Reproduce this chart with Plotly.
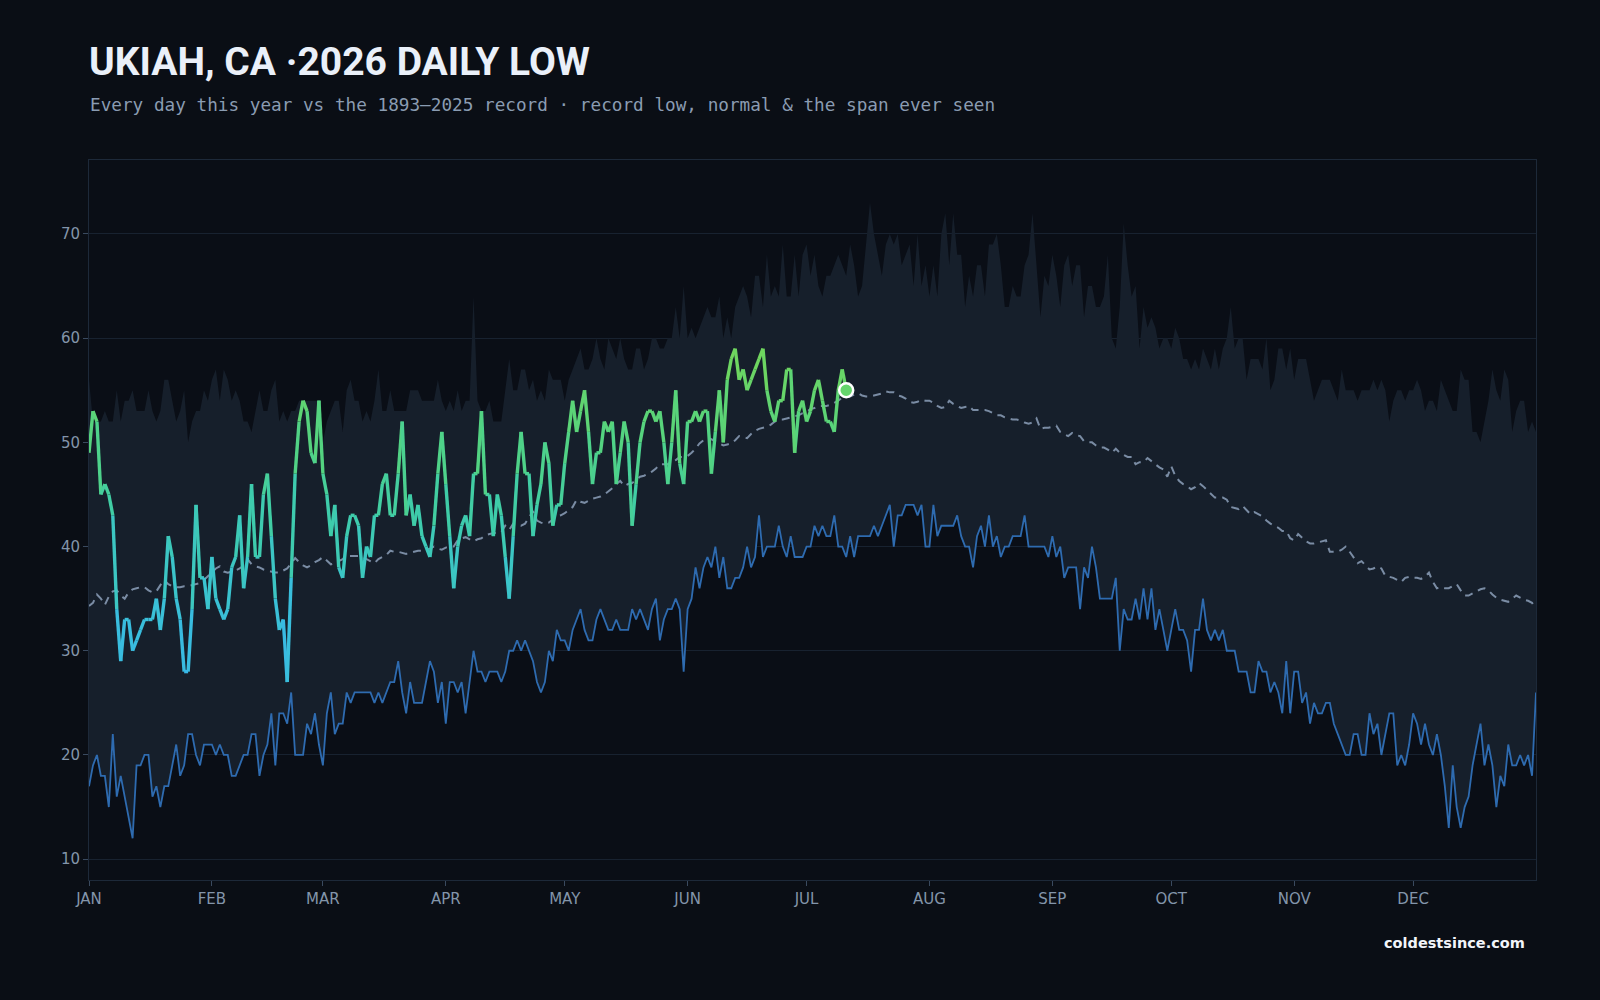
import plotly.graph_objects as go

# ---------------- data ----------------
# day-of-year index 0..365 (366 climatology days)
record_high = [
    56, 52, 52, 52, 53, 52, 52, 55, 52, 54,
    54, 55, 53, 53, 53, 55, 53, 52, 53, 56,
    56, 54, 52, 53, 55, 50, 52, 53, 53, 55,
    54, 56, 57, 54, 57, 56, 54, 55, 54, 52,
    52, 51, 53, 55, 53, 53, 55, 56, 52, 53,
    52, 53, 53, 54, 54, 54, 54, 54, 54, 50,
    52, 53, 54, 54, 51, 55, 56, 54, 54, 52,
    53, 52, 54, 57, 53, 53, 55, 53, 53, 53,
    53, 55, 55, 55, 54, 54, 54, 54, 56, 54,
    53, 54, 53, 55, 53, 54, 54, 64, 54, 53,
    53, 54, 52, 52, 52, 55, 58, 55, 55, 57,
    57, 55, 56, 54, 55, 54, 57, 56, 56, 56,
    54, 56, 57, 58, 59, 57, 57, 58, 60, 58,
    57, 60, 59, 58, 60, 58, 57, 57, 59, 59,
    57, 58, 60, 60, 59, 59, 60, 60, 63, 60,
    65, 60, 61, 60, 61, 62, 63, 62, 62, 64,
    60, 62, 60, 63, 64, 65, 64, 62, 66, 66,
    63, 68, 64, 65, 64, 69, 64, 64, 68, 64,
    68, 69, 66, 68, 65, 64, 66, 66, 67, 68,
    67, 66, 69, 67, 64, 65, 69, 73, 70, 68,
    66, 69, 70, 69, 70, 67, 68, 69, 65, 70,
    65, 67, 64, 67, 64, 70, 72, 67, 72, 68,
    68, 63, 66, 64, 67, 67, 64, 69, 69, 70,
    67, 63, 63, 65, 64, 64, 67, 68, 72, 67,
    62, 66, 65, 68, 66, 63, 67, 68, 65, 67,
    67, 62, 65, 65, 63, 63, 64, 68, 60, 59,
    63, 71, 67, 64, 65, 59, 63, 61, 62, 61,
    59, 60, 60, 59, 61, 60, 58, 58, 57, 58,
    57, 59, 58, 57, 59, 57, 59, 60, 63, 59,
    60, 60, 56, 58, 58, 58, 57, 60, 55, 56,
    59, 59, 57, 59, 56, 58, 58, 58, 56, 54,
    55, 56, 56, 56, 55, 54, 57, 55, 55, 55,
    54, 55, 55, 55, 56, 55, 56, 55, 52, 54,
    55, 55, 54, 55, 55, 56, 55, 53, 54, 54,
    53, 56, 55, 54, 53, 53, 57, 56, 56, 51,
    51, 50, 52, 54, 57, 55, 54, 57, 56, 51,
    53, 54, 54, 51, 52, 51,
]

record_low = [
    17, 19, 20, 18, 18, 15, 22, 16, 18, 16,
    14, 12, 19, 19, 20, 20, 16, 17, 15, 17,
    17, 19, 21, 18, 19, 22, 22, 20, 19, 21,
    21, 21, 20, 21, 20, 20, 18, 18, 19, 20,
    20, 22, 22, 18, 20, 21, 24, 19, 24, 24,
    23, 26, 20, 20, 20, 23, 22, 24, 21, 19,
    24, 26, 22, 23, 23, 26, 25, 26, 26, 26,
    26, 26, 25, 26, 25, 26, 27, 27, 29, 26,
    24, 27, 25, 25, 25, 27, 29, 28, 25, 27,
    23, 27, 27, 26, 27, 24, 27, 30, 28, 28,
    27, 28, 28, 28, 27, 28, 30, 30, 31, 30,
    31, 30, 29, 27, 26, 27, 30, 29, 32, 31,
    31, 30, 32, 33, 34, 32, 31, 31, 33, 34,
    33, 32, 32, 33, 32, 32, 32, 34, 33, 34,
    33, 32, 34, 35, 31, 33, 34, 34, 35, 34,
    28, 34, 35, 38, 36, 38, 39, 38, 40, 37,
    39, 36, 36, 37, 37, 38, 40, 38, 39, 43,
    39, 40, 40, 40, 42, 40, 39, 41, 39, 39,
    39, 40, 40, 42, 41, 42, 41, 41, 43, 40,
    40, 39, 41, 39, 41, 41, 41, 41, 42, 41,
    42, 43, 44, 40, 43, 43, 44, 44, 44, 43,
    44, 40, 40, 44, 41, 42, 42, 42, 42, 43,
    41, 40, 40, 38, 41, 42, 40, 43, 40, 41,
    39, 40, 40, 41, 41, 41, 43, 40, 40, 40,
    40, 40, 39, 41, 39, 40, 37, 38, 38, 38,
    34, 38, 37, 40, 38, 35, 35, 35, 35, 37,
    30, 34, 33, 33, 35, 33, 36, 33, 36, 32,
    34, 32, 30, 32, 34, 32, 32, 31, 28, 32,
    32, 35, 32, 31, 32, 31, 32, 30, 30, 30,
    28, 28, 28, 26, 26, 29, 28, 28, 26, 27,
    26, 24, 29, 24, 28, 28, 25, 26, 23, 25,
    24, 24, 25, 25, 23, 22, 21, 20, 20, 22,
    22, 20, 20, 24, 22, 23, 20, 22, 24, 24,
    19, 20, 19, 21, 24, 23, 21, 23, 21, 20,
    22, 20, 17, 13, 19, 15, 13, 15, 16, 19,
    21, 23, 19, 21, 19, 15, 18, 17, 21, 19,
    19, 20, 19, 20, 18, 26,
]

normal = [
    34.3, 34.6, 35.4, 35.0, 34.4, 35.2, 35.7, 35.8, 35.3, 35.0,
    35.6, 35.9, 36.0, 36.1, 36.1, 35.8, 35.6, 35.7, 36.3, 36.8,
    36.4, 36.2, 36.1, 36.1, 36.2, 36.2, 36.3, 36.4, 36.5, 36.8,
    37.2, 37.6, 37.9, 38.1, 37.6, 37.5, 37.6, 37.7, 37.9, 38.2,
    38.8, 38.3, 38.1, 38.0, 37.8, 37.7, 37.6, 37.5, 37.5, 37.7,
    37.9, 38.4, 38.9, 38.5, 38.2, 38.0, 38.2, 38.5, 38.7, 39.0,
    38.6, 38.3, 38.4, 38.6, 38.8, 39.1, 39.1, 39.1, 39.1, 39.0,
    38.8, 38.6, 38.4, 38.8, 39.0, 39.2, 39.6, 39.5, 39.5, 39.4,
    39.3, 39.4, 39.5, 39.6, 39.6, 39.7, 39.8, 40.0, 39.8, 39.7,
    39.9, 40.0, 40.0, 40.6, 40.8, 40.9, 40.7, 40.5, 40.7, 40.8,
    41.1, 41.2, 41.3, 41.3, 41.4, 42.0, 41.6, 42.2, 42.1, 42.0,
    42.2, 42.8, 43.4, 42.5, 42.3, 42.2, 42.3, 42.6, 42.9, 43.0,
    43.2, 43.5, 43.8, 44.5, 44.3, 44.2, 44.4, 44.6, 44.7, 44.8,
    45.0, 45.3, 45.6, 46.0, 46.3, 45.8, 46.0, 46.1, 46.4, 46.7,
    46.8, 47.0, 47.2, 47.5, 47.9, 47.9, 47.9, 48.1, 48.3, 48.6,
    48.6, 48.7, 49.0, 49.4, 49.9, 50.2, 50.4, 50.3, 50.1, 49.9,
    49.7, 49.8, 49.9, 50.2, 50.6, 50.5, 50.4, 50.8, 51.1, 51.3,
    51.4, 51.5, 51.7, 52.0, 52.2, 52.2, 52.3, 52.4, 52.5, 52.6,
    52.8, 52.9, 53.2, 53.3, 53.5, 53.5, 53.5, 53.6, 53.8, 54.0,
    54.3, 54.4, 54.4, 54.6, 54.7, 54.5, 54.4, 54.4, 54.5, 54.6,
    54.7, 54.9, 54.8, 54.8, 54.5, 54.4, 54.2, 53.9, 53.8, 53.9,
    54.1, 54.0, 54.0, 53.8, 53.5, 53.3, 53.4, 54.0, 53.7, 53.5,
    53.3, 53.4, 53.5, 53.1, 53.1, 53.1, 53.1, 53.0, 52.8, 52.6,
    52.6, 52.4, 52.3, 52.2, 52.2, 52.1, 51.9, 51.8, 51.9, 52.3,
    51.3, 51.4, 51.4, 51.5, 51.6, 51.0, 50.8, 50.6, 50.9, 50.7,
    50.6, 50.1, 50.0, 50.0, 49.7, 49.5, 49.5, 49.3, 49.0, 49.4,
    49.0, 48.8, 48.6, 48.6, 47.9, 48.1, 48.1, 48.5, 48.2, 47.9,
    47.6, 47.4, 46.7, 47.7, 46.8, 46.3, 46.0, 45.8, 45.5, 45.7,
    46.1, 45.8, 45.4, 45.0, 44.7, 44.7, 44.7, 44.5, 43.8, 43.7,
    43.6, 43.9, 43.5, 43.1, 43.3, 43.1, 42.9, 42.5, 42.2, 42.0,
    41.8, 41.5, 41.5, 40.8, 40.6, 41.2, 40.8, 40.5, 40.3, 40.3,
    40.4, 40.5, 40.6, 39.5, 39.5, 39.5, 39.7, 40.0, 39.5, 38.9,
    38.4, 38.6, 38.2, 37.8, 37.9, 38.1, 37.9, 37.2, 37.1, 37.0,
    36.8, 36.6, 37.0, 37.1, 37.0, 37.0, 36.9, 37.1, 37.5, 36.6,
    36.0, 36.1, 36.0, 36.0, 36.2, 36.4, 35.8, 35.3, 35.3, 35.5,
    35.7, 35.9, 36.0, 35.8, 35.4, 35.1, 34.9, 34.8, 34.7, 35.0,
    35.3, 35.1, 34.9, 34.8, 34.6, 34.0,
]

# 2026 daily lows so far (day 0 = Jan 1)
current = [
    49, 53, 52, 45, 46, 45, 43, 34, 29, 33,
    33, 30, 31, 32, 33, 33, 33, 35, 32, 35,
    41, 39, 35, 33, 28, 28, 34, 44, 37, 37,
    34, 39, 35, 34, 33, 34, 38, 39, 43, 36,
    39, 46, 39, 39, 45, 47, 41, 35, 32, 33,
    27, 37, 47, 52, 54, 53, 49, 48, 54, 47,
    45, 41, 44, 38, 37, 41, 43, 43, 42, 37,
    40, 39, 43, 43, 46, 47, 43, 43, 47, 52,
    43, 45, 42, 44, 41, 40, 39, 42, 47, 51,
    46, 41, 36, 40, 42, 43, 41, 47, 47, 53,
    45, 45, 41, 45, 43, 39, 35, 41, 47, 51,
    47, 47, 41, 44, 46, 50, 48, 42, 44, 44,
    48, 51, 54, 51, 53, 55, 51, 46, 49, 49,
    52, 51, 52, 46, 49, 52, 50, 42, 46, 50,
    52, 53, 53, 52, 53, 50, 46, 50, 55, 48,
    46, 52, 52, 53, 52, 53, 53, 47, 51, 55,
    50, 56, 58, 59, 56, 57, 55, 56, 57, 58,
    59, 55, 53, 52, 54, 54, 57, 57, 49, 53,
    54, 52, 53, 55, 56, 54, 52, 52, 51, 55,
    57, 55,
]

month_starts = [0, 31, 59, 90, 120, 151, 181, 212, 243, 273, 304, 334]
month_labels = ["JAN", "FEB", "MAR", "APR", "MAY", "JUN",
                "JUL", "AUG", "SEP", "OCT", "NOV", "DEC"]
y_ticks = [10, 20, 30, 40, 50, 60, 70]

days = list(range(len(record_high)))
cur_days = list(range(len(current)))

# ---------------- style ----------------
PAPER = "#0a0e15"
PLOT = "#0a0e16"
SPAN = "#161f2b"
GRID = "#182230"
AXIS = "#1d2939"
TICK_TXT = "#8395aa"
LOW_LINE = "#2e6bb0"
NORMAL = "#7a8ca4"

# colour ramp for this year's line (value -> colour)
ramp = [(27, (56, 182, 234)), (35, (58, 194, 212)), (43, (62, 204, 170)),
        (50, (82, 211, 130)), (58, (112, 214, 94))]


def ramp_color(v):
    if v <= ramp[0][0]:
        c = ramp[0][1]
    elif v >= ramp[-1][0]:
        c = ramp[-1][1]
    else:
        for (v0, c0), (v1, c1) in zip(ramp[:-1], ramp[1:]):
            if v0 <= v <= v1:
                t = (v - v0) / (v1 - v0)
                c = tuple(round(a + (b - a) * t) for a, b in zip(c0, c1))
                break
    return "rgb(%d,%d,%d)" % c


fig = go.Figure()

# span ever seen: fill between record high and record low
fig.add_trace(go.Scatter(x=days, y=record_high, mode="lines",
                         line=dict(width=0, color="rgba(0,0,0,0)"),
                         hoverinfo="skip", showlegend=False))
fig.add_trace(go.Scatter(x=days, y=record_low, mode="lines",
                         line=dict(width=1.8, color=LOW_LINE),
                         fill="tonexty", fillcolor=SPAN,
                         name="record low", showlegend=False))

# normal
fig.add_trace(go.Scatter(x=days, y=normal, mode="lines",
                         line=dict(width=2, color=NORMAL, dash="8px,6px"),
                         name="normal", showlegend=False))

# this year, coloured by value (segments grouped by colour)
groups = {}
for i in range(len(current) - 1):
    mid = (current[i] + current[i + 1]) / 2
    col = ramp_color(round(mid * 2) / 2)
    xs, ys = groups.setdefault(col, ([], []))
    xs += [cur_days[i], cur_days[i + 1], None]
    ys += [current[i], current[i + 1], None]
for col, (xs, ys) in groups.items():
    fig.add_trace(go.Scatter(x=xs, y=ys, mode="lines",
                             line=dict(width=3.4, color=col),
                             connectgaps=False, showlegend=False,
                             hoverinfo="skip"))

# latest day marker
fig.add_trace(go.Scatter(x=[cur_days[-1]], y=[current[-1]], mode="markers",
                         marker=dict(size=14, color=ramp_color(current[-1]),
                                     line=dict(color="#ffffff", width=2.5)),
                         showlegend=False))

fig.update_layout(
    width=1600, height=1000,
    paper_bgcolor=PAPER, plot_bgcolor=PLOT,
    margin=dict(l=89, r=64, t=160, b=120),
    showlegend=False,
    xaxis=dict(range=[0, 365], tickmode="array", tickvals=month_starts,
               ticktext=month_labels, showgrid=False, zeroline=False,
               ticks="outside", ticklen=5, tickcolor="#3a4a5f", tickwidth=1,
               showline=True, linecolor=AXIS, linewidth=1, mirror=True,
               tickfont=dict(family="DejaVu Sans", size=15, color=TICK_TXT)),
    yaxis=dict(range=[8, 77.1], tickmode="array", tickvals=y_ticks,
               showgrid=True, gridcolor=GRID, gridwidth=1, zeroline=False,
               ticks="outside", ticklen=5, tickcolor="#3a4a5f", tickwidth=1,
               showline=True, linecolor=AXIS, linewidth=1, mirror=True,
               tickfont=dict(family="DejaVu Sans", size=15, color=TICK_TXT)),
    annotations=[
        dict(text="<b>UKIAH, CA ·2026 DAILY LOW</b>", xref="paper", yref="paper",
             x=-0.0015, y=1.136, xanchor="left", yanchor="middle", showarrow=False,
             font=dict(family="Roboto", size=39, color="#eaf0f9")),
        dict(text="Every day this year vs the 1893–2025 record · record low, normal &amp; the span ever seen",
             xref="paper", yref="paper", x=-0.001, y=1.076, xanchor="left",
             yanchor="middle", showarrow=False,
             font=dict(family="DejaVu Sans Mono", size=17.7, color="#8a9cb2")),
        dict(text="<b>coldestsince.com</b>", xref="paper", yref="paper",
             x=0.9935, y=-0.0875, xanchor="right", yanchor="middle",
             showarrow=False,
             font=dict(family="DejaVu Sans", size=14.5, color="#f2f5fa")),
    ],
)

fig.write_html("out.html")
